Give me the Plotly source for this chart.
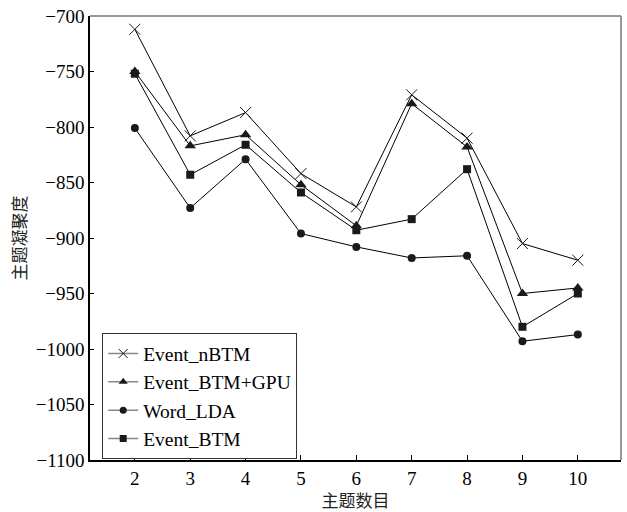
import plotly.graph_objects as go

topics = [2, 3, 4, 5, 6, 7, 8, 9, 10]
event_nbtm = [-712, -808, -787, -842, -872, -771, -810, -905, -920]
event_btm_gpu = [-750, -817, -807, -852, -889, -779, -818, -950, -945]
word_lda = [-801, -873, -829, -896, -908, -918, -916, -993, -987]
event_btm = [-752, -843, -816, -859, -893, -883, -838, -980, -950]

names = ["Event_nBTM", "Event_BTM+GPU", "Word_LDA", "Event_BTM"]
series = [event_nbtm, event_btm_gpu, word_lda, event_btm]
symbols = ["x-thin", "triangle-up", "circle", "square"]
sizes = [11, 10, 8, 8]
legend_sizes = [9, 8, 7, 7]

mk = "#1a1a1a"
fig = go.Figure()
for n, s, sym, sz, lsz in zip(names, series, symbols, sizes, legend_sizes):
    marker = dict(symbol=sym, size=sz, color=mk)
    lmarker = dict(symbol=sym, size=lsz, color=mk)
    if sym == "x-thin":
        marker["line"] = dict(color=mk, width=1)
        lmarker["line"] = dict(color=mk, width=1)
    fig.add_trace(go.Scatter(x=topics, y=s, mode="lines+markers", name=n,
                             line=dict(color="black", width=1), marker=marker,
                             showlegend=False))
    fig.add_trace(go.Scatter(x=[None], y=[None], mode="lines+markers", name=n,
                             line=dict(color="#888888", width=1.5), marker=lmarker))

font = "Liberation Serif"
cjk = "Noto Sans CJK SC"
fig.update_layout(
    width=627, height=512,
    margin=dict(l=90, r=6, t=14, b=52),
    paper_bgcolor="white", plot_bgcolor="white",
    font=dict(family=font, size=19, color="black"),
    legend=dict(x=0.023, y=0.1435, xanchor="left", yanchor="middle",
                bordercolor="#333333", borderwidth=1, bgcolor="white",
                font=dict(family=font, size=19.5, color="black"),
                itemwidth=30),
    showlegend=True,
)
fig.update_xaxes(range=[1.19, 10.78], tickvals=topics, ticks="inside", ticklen=5,
                 tickcolor="black", showline=True, linecolor="black", linewidth=1.5,
                 showgrid=False, zeroline=False,
                 tickfont=dict(family=font, size=19, color="black"),
                 title=dict(text="主题数目", font=dict(family=cjk, size=17, color="#222222"), standoff=2))
fig.update_yaxes(range=[-1100, -700], dtick=50, ticks="inside", ticklen=4,
                 tickcolor="black", showline=True, linecolor="black", linewidth=1.5,
                 showgrid=False, zeroline=False,
                 tickfont=dict(family=font, size=19, color="black"),
                 title=dict(text="主题凝聚度", font=dict(family=cjk, size=17, color="#222222"), standoff=5))
fig.add_shape(type="line", xref="paper", yref="paper", x0=0, x1=1, y0=1, y1=1,
              line=dict(color="#777777", width=1.5))
fig.add_shape(type="line", xref="paper", yref="paper", x0=1, x1=1, y0=0, y1=1,
              line=dict(color="#777777", width=1.5))
fig.write_html("out.html", config={"displayModeBar": False},
               post_script="document.body.style.margin='0';")
